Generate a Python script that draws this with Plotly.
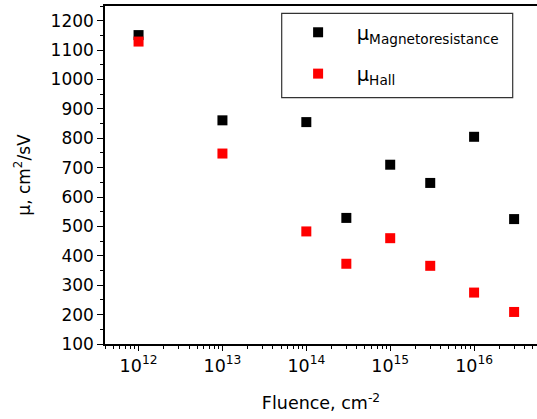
import plotly.graph_objects as go

fluence = [1e12, 1e13, 1e14, 3e14, 1e15, 3e15, 1e16, 3e16]
mu_magneto = [1151, 861, 855, 529, 710, 648, 805, 525]
mu_hall = [1129, 748, 483, 373, 460, 366, 275, 209]

xtick_vals = [1e12, 1e13, 1e14, 1e15, 1e16]
xtick_text = ["10<sup>12</sup>", "10<sup>13</sup>", "10<sup>14</sup>", "10<sup>15</sup>", "10<sup>16</sup>"]
ytick_vals = [100, 200, 300, 400, 500, 600, 700, 800, 900, 1000, 1100, 1200]

FONT = "DejaVu Sans, Arial, sans-serif"

fig = go.Figure()
fig.add_trace(go.Scatter(
    x=fluence, y=mu_magneto, mode="markers",
    marker=dict(symbol="square", size=10, color="black"),
    name="&#160;&#160;&#160;μ<sub>Magnetoresistance</sub>",
    legendgroup="a",
))
fig.add_trace(go.Scatter(
    x=fluence, y=mu_hall, mode="markers",
    marker=dict(symbol="square", size=10, color="#ff0000"),
    name="&#160;&#160;&#160;μ<sub>Hall</sub>",
    legendgroup="b",
))

fig.update_layout(
    width=537, height=419,
    margin=dict(l=105, r=0, t=6, b=75),
    paper_bgcolor="white", plot_bgcolor="white",
    font=dict(family=FONT, size=17, color="black"),
    showlegend=True,
    legend=dict(
        x=0.447, y=0.979, xanchor="left", yanchor="top",
        bgcolor="rgba(0,0,0,0)", borderwidth=0,
        font=dict(family=FONT, size=19.5),
        traceorder="grouped", tracegroupgap=13, itemwidth=30,
    ),
    xaxis=dict(
        type="log", range=[11.6, 16.75],
        tickvals=xtick_vals, ticktext=xtick_text,
        ticks="outside", ticklen=5, tickwidth=1, tickcolor="black",
        showline=True, linecolor="black", linewidth=1.5, mirror=True,
        showgrid=False, zeroline=False,
        minor=dict(ticks="outside", ticklen=3, tickcolor="black", dtick="D1", showgrid=False),
        title=dict(text="Fluence, cm<sup>-2</sup>", font=dict(size=17.5), standoff=22),
        tickfont=dict(size=17.5),
    ),
    yaxis=dict(
        range=[100, 1250],
        tickvals=ytick_vals,
        ticks="outside", ticklen=6, tickwidth=1, tickcolor="black",
        showline=True, linecolor="black", linewidth=1.5, mirror=False,
        showgrid=False, zeroline=False,
        minor=dict(ticks="outside", ticklen=3, tickcolor="black", dtick=50, showgrid=False),
        title=dict(text="μ, cm<sup>2</sup>/sV", font=dict(size=17), standoff=16),
        tickfont=dict(size=17),
    ),
    shapes=[dict(
        type="rect", xref="paper", yref="paper",
        x0=(281.7 - 105) / 432, x1=(512.7 - 105) / 432,
        y0=(344.5 - 97.7) / 338.5, y1=(344.5 - 13.3) / 338.5,
        line=dict(color="#333333", width=1.2), fillcolor="rgba(0,0,0,0)",
    )],
)

fig.write_html("out.html")
